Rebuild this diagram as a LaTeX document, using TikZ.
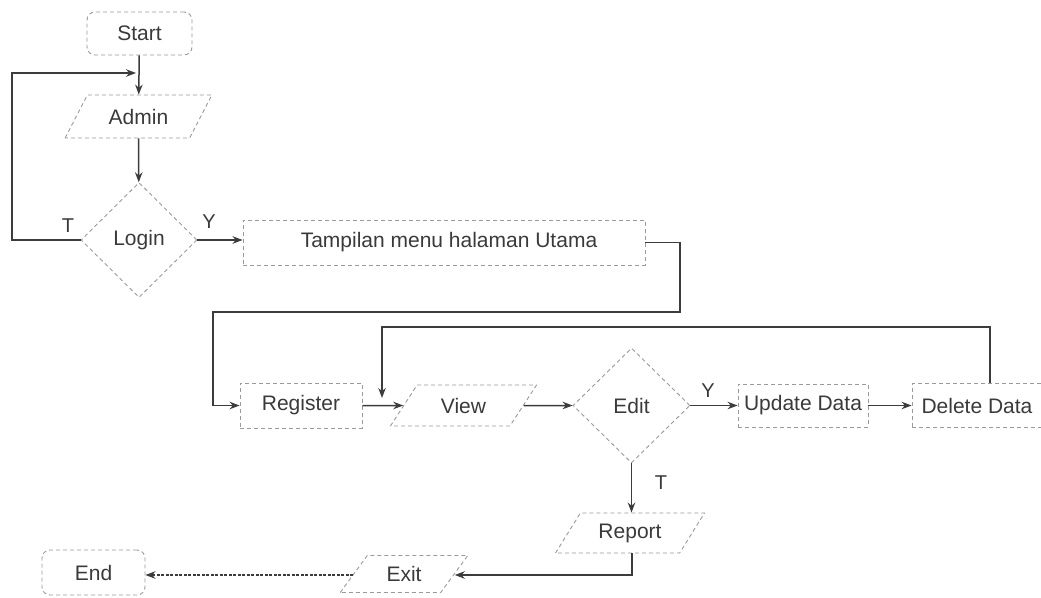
\documentclass[tikz,border=0pt]{standalone}
\usepackage{fontspec}
\setmainfont{Liberation Sans}
\usetikzlibrary{shapes.geometric,arrows.meta}
\definecolor{ink}{HTML}{3A3A3A}
\definecolor{edge}{HTML}{9A9A9A}
\definecolor{wire}{HTML}{3C3C3C}
\begin{document}
\begin{tikzpicture}[x=1pt,y=-1pt,
  every node/.style={font=\fontsize{21}{24}\selectfont, text=ink, inner sep=0pt},
  outline/.style={draw=edge, line width=0.9pt, dash pattern=on 4pt off 3pt},
  terminal/.style={outline, rectangle, rounded corners=8pt},
  procbox/.style={outline, rectangle},
  iobox/.style={outline, trapezium, trapezium left angle=50, trapezium right angle=130, trapezium stretches=true},
  decision/.style={outline, diamond},
  flow/.style={draw=wire, line width=1.5pt, -{Stealth[length=10pt,width=7.5pt]}},
  dotflow/.style={flow, dash pattern=on 3pt off 1.5pt},
  tag/.style={font=\fontsize{20}{22}\selectfont}]
\useasboundingbox (0,0) rectangle (1041,597);

% shapes
\node[terminal, minimum width=105pt, minimum height=43pt] (start) at (139.5,33.5) {Start};
\node[iobox, minimum width=147pt, minimum height=43pt] (admin) at (138.5,116.5) {Admin};
\node[decision, minimum width=116pt, minimum height=115pt] (login) at (139,240) {Login};
\node[procbox, minimum width=402pt, minimum height=45pt] (menu) at (444,242.5) {\hspace*{10pt}Tampilan menu halaman Utama};
\node[procbox, minimum width=122pt, minimum height=45pt] (register) at (301,405.5) {Register};
\node[iobox, minimum width=147pt, minimum height=41pt] (view) at (463.5,405.5) {View};
\node[decision, minimum width=117pt, minimum height=115pt] (edit) at (631.5,405.5) {Edit};
\node[procbox, minimum width=130pt, minimum height=43pt] (update) at (803,405.5) {Update Data};
\node[procbox, minimum width=130pt, minimum height=44pt] (delete) at (977,405.5) {Delete Data};
\node[iobox, minimum width=150pt, minimum height=40pt] (report) at (630,533) {Report};
\node[iobox, minimum width=128pt, minimum height=37pt] (exit) at (404,574) {Exit};
\node[terminal, minimum width=103pt, minimum height=45pt] (end) at (93.5,572.5) {End};

% free ends of connectors that join a line
\coordinate (loopin) at (136,73);
\coordinate (backin) at (382,398);

% connectors
\draw[flow] (start) -- (admin);
\draw[flow] (admin) -- (login);
\draw[flow] (login.west) -- (12,240) -- (12,73) -- (loopin);
\draw[flow] (login.east) -- (login.east -| menu.west);
\draw[flow] (menu.east) -- (680,242.5) -- (680,312) -- (213,312) -- (213,405.5) -- (register.west);
\draw[flow] (register.east) -- (view.west);
\draw[flow] (delete.north -| 990,0) -- (990,327) -- (382,327) -- (backin);
\draw[flow] (view.east) -- (edit.west);
\draw[flow] (edit.east) -- (update.west);
\draw[flow] (update.east) -- (delete.west);
\draw[flow] (edit.south) -- (report.north -| edit.south);
\draw[flow] (report.south -| 632,0) -- (632,575) -- (466,575) -- (exit.east |- 0,575);
\draw[dotflow] (exit.west |- 0,575) -- (end.east |- 0,575);

% branch labels
\node[tag] (tlogin) at (68,226) {T};
\node[tag] (ylogin) at (209,222) {Y};
\node[tag] (yedit) at (708,391) {Y};
\node[tag] (tedit) at (661,483) {T};
\end{tikzpicture}
\end{document}
